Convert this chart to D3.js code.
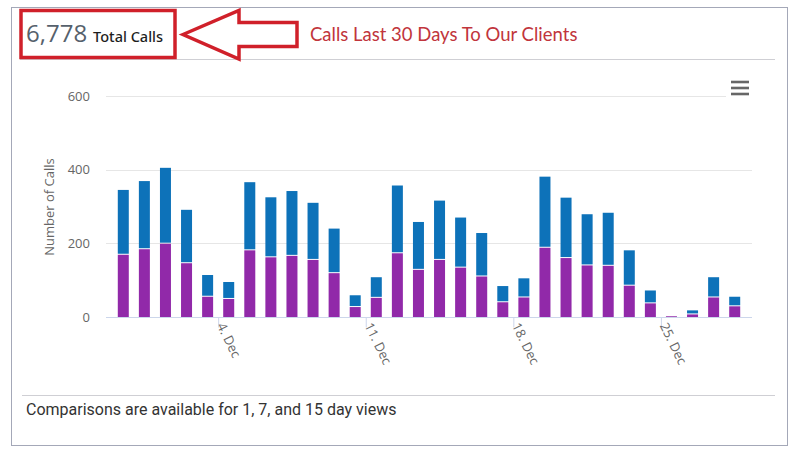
<!DOCTYPE html>
<html><head><meta charset="utf-8">
<script src="https://cdn.jsdelivr.net/npm/d3@7/dist/d3.min.js"></script>
<style>body{margin:0;background:#fff;}svg{display:block;}</style>
</head><body><svg id="c" width="795" height="456"></svg>
<script>
const days = ["2023-11-29","2023-11-30","2023-12-01","2023-12-02","2023-12-03","2023-12-04","2023-12-05","2023-12-06","2023-12-07","2023-12-08","2023-12-09","2023-12-10","2023-12-11","2023-12-12","2023-12-13","2023-12-14","2023-12-15","2023-12-16","2023-12-17","2023-12-18","2023-12-19","2023-12-20","2023-12-21","2023-12-22","2023-12-23","2023-12-24","2023-12-25","2023-12-26","2023-12-27","2023-12-28"];
const purpleVals = [169,184,199,146,55,49,181,162,166,155,119,27,52,173,128,155,134,110,40,53,188,160,140,139,85,37,2,7,53,29];
const blueVals   = [176,185,206,145,59,46,185,163,176,155,121,32,56,184,130,161,136,118,44,52,193,164,139,144,96,35,1,11,55,26];
const yTicks = [0,200,400,600];
const xTickDates = ["2023-12-04","2023-12-11","2023-12-18","2023-12-25"];
const xTickLabels = ["4. Dec","11. Dec","18. Dec","25. Dec"];
const totalCalls = "6,778";

const svg = d3.select("#c");
const DAY = 864e5;
const centers = days.map(d => new Date(d + "T12:00:00Z"));
const pad = 0.82 * DAY;
const x = d3.scaleUtc().domain([new Date(+centers[0] - pad), new Date(+centers[centers.length-1] + pad)]).range([106, 752]);
const y = d3.scaleLinear().domain([0, 600]).range([317, 96]);

// card
svg.append("rect").attr("x",11.5).attr("y",7.5).attr("width",776).attr("height",438).attr("fill","#fff").attr("stroke","#a4a8b8").attr("stroke-width",1);
svg.append("line").attr("x1",20).attr("x2",775).attr("y1",59.5).attr("y2",59.5).attr("stroke","#cfcfd4");
svg.append("line").attr("x1",22).attr("x2",775).attr("y1",395.5).attr("y2",395.5).attr("stroke","#cfcfd4");

// header
const ht = svg.append("text").attr("x",26).attr("y",42).attr("font-family","Open Sans").attr("fill","#56616c");
ht.append("tspan").attr("font-size",24).text(totalCalls);
ht.append("tspan").attr("font-family","Noto Sans").attr("font-size",14.5).attr("font-weight",500).attr("fill","#1e1e1e").attr("dx",6).text("Total Calls");
svg.append("rect").attr("x",21).attr("y",10.5).attr("width",154).attr("height",47).attr("fill","none").attr("stroke","#d0202a").attr("stroke-width",3.5);
svg.append("path").attr("d","M183,34.5 L239,10.5 L239,22.5 L297,22.5 L297,46.5 L239,46.5 L239,59 Z").attr("fill","none").attr("stroke","#d0202a").attr("stroke-width",3.5).attr("stroke-linejoin","miter");
svg.append("text").attr("x",310).attr("y",41).attr("font-family","Lato").attr("font-size",18.5).attr("fill","#c1353c").text("Calls Last 30 Days To Our Clients");

// grid
const g = svg.append("g");
g.selectAll("line.grid").data(yTicks.filter(v=>v>0)).join("line")
  .attr("x1",106).attr("x2",752).attr("y1",d=>Math.round(y(d))+0.5).attr("y2",d=>Math.round(y(d))+0.5)
  .attr("stroke","#e6e6e6");
g.selectAll("text.yl").data(yTicks).join("text")
  .attr("x",90).attr("y",d=>y(d)+4.5).attr("text-anchor","end")
  .attr("font-family","Open Sans").attr("font-size",13).attr("fill","#666").text(d=>d);
svg.append("text").attr("transform","translate(54,207) rotate(-90)").attr("text-anchor","middle")
  .attr("font-family","Open Sans").attr("font-size",13).attr("fill","#666").text("Number of Calls");

// bars
const bw = 11;
const stackData = centers.map((c,i)=>({c, p:purpleVals[i], b:blueVals[i]}));
g.selectAll("rect.p").data(stackData).join("rect")
  .attr("x",d=>x(d.c)-bw/2).attr("width",bw)
  .attr("y",d=>y(d.p)).attr("height",d=>y(0)-y(d.p))
  .attr("fill","#9129a9");
g.selectAll("rect.b").data(stackData).join("rect")
  .attr("x",d=>x(d.c)-bw/2).attr("width",bw)
  .attr("y",d=>y(d.p+d.b)).attr("height",d=>Math.max(0,y(d.p)-y(d.p+d.b)-1))
  .attr("fill","#0d72b9");

// x axis
const tickD = xTickDates.map(d=>new Date(d+"T00:00:00Z"));
const xAxis = d3.axisBottom(x).tickValues(tickD).tickSize(10).tickFormat((d,i)=>xTickLabels[i]);
const ax = svg.append("g").attr("transform","translate(0,317.5)").call(xAxis);
ax.select(".domain").attr("stroke","#ccd6eb").attr("d","M106,0H752");
ax.selectAll(".tick line").attr("stroke","#ccd6eb");
ax.selectAll(".tick text").attr("font-family","Open Sans").attr("font-size",13).attr("fill","#666")
  .attr("text-anchor","start").attr("dy",null).attr("y",0)
  .attr("transform","translate(-2,8) rotate(64)");

// menu
svg.append("rect").attr("x",726).attr("y",77).attr("width",28).attr("height",22).attr("fill","#fff");
[82,88,94].forEach(yy=>svg.append("line").attr("x1",731).attr("x2",749).attr("y1",yy).attr("y2",yy).attr("stroke","#666").attr("stroke-width",2.6));

// footer
svg.append("text").attr("x",26).attr("y",415).attr("font-family","Roboto").attr("font-size",16).attr("fill","#333").text("Comparisons are available for 1, 7, and 15 day views");
</script></body></html>
